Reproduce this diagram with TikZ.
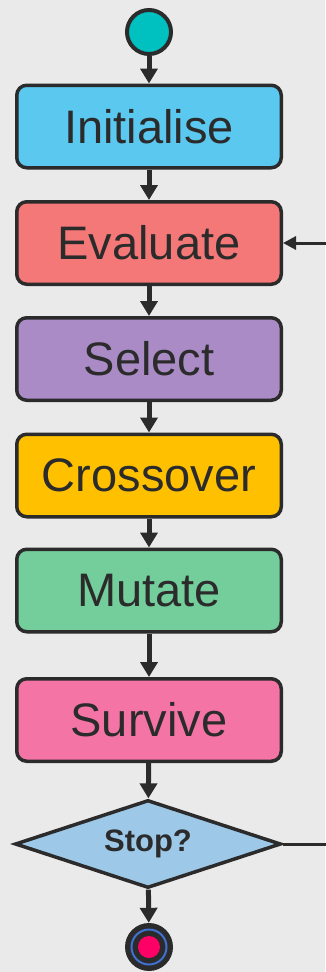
\documentclass[tikz,border=0pt]{standalone}
\usepackage{fontspec}
\setmainfont{Liberation Sans}
\usetikzlibrary{arrows.meta,shapes.geometric}

\definecolor{bgcol}{HTML}{EAEAEA}
\definecolor{inkcol}{HTML}{2B2B2B}
\definecolor{initcol}{HTML}{5BC8EF}
\definecolor{evalcol}{HTML}{F47878}
\definecolor{selcol}{HTML}{AB8BC6}
\definecolor{crosscol}{HTML}{FFC000}
\definecolor{mutcol}{HTML}{74CE9C}
\definecolor{survcol}{HTML}{F474A6}
\definecolor{stopcol}{HTML}{9DC8E8}
\definecolor{startcol}{HTML}{00C0C0}
\definecolor{ringcol}{HTML}{4070D0}
\definecolor{corecol}{HTML}{FF0066}

\tikzset{
  stepbox/.style={draw=inkcol, line width=3.5pt, rounded corners=10pt,
    minimum width=264.5pt, minimum height=82.5pt, inner sep=0pt,
    text=inkcol, font=\fontsize{47}{50}\selectfont},
  stopbox/.style={diamond, draw=inkcol, line width=3.5pt, fill=stopcol, aspect=3,
    minimum width=266pt, minimum height=88pt, inner sep=0pt,
    text=inkcol, font=\fontsize{31}{34}\selectfont\bfseries},
  startdot/.style={circle, draw=inkcol, line width=4pt, fill=startcol,
    minimum size=44pt, inner sep=0pt},
  enddot/.style={circle, fill=inkcol, minimum size=48pt, inner sep=0pt},
  flow/.style={draw=inkcol, line width=5pt, -{Triangle[length=15pt,width=17pt]}},
  back/.style={draw=inkcol, line width=3pt, -{Triangle[length=13pt,width=13pt]}}
}

\begin{document}
\begin{tikzpicture}[x=1pt,y=-1pt]
  %%%%% START %%%%%

  \fill[bgcol] (0,0) rectangle (325,972);
  \useasboundingbox (0,0) rectangle (325,972);

  \node[startdot] (start) at (149,32) {};

  \node[stepbox, fill=initcol]  (init)   at (149,126.5) {Initialise};
  \node[stepbox, fill=evalcol]  (eval)   at (149,243)   {Evaluate};
  \node[stepbox, fill=selcol]   (select) at (149,359)   {Select};
  \node[stepbox, fill=crosscol] (cross)  at (149,475.5) {Crossover};
  \node[stepbox, fill=mutcol]   (mutate) at (149,590.5) {Mutate};
  \node[stepbox, fill=survcol]  (surv)   at (149,720)   {Survive};

  \node[stopbox] (stop) at (148,844) {Stop?};

  \node[enddot] (end) at (149,947) {};
  \draw[ringcol, line width=2pt] (end.center) circle (17.5);
  \fill[corecol] (end.center) circle (11);

  \draw[flow] (start) -- (init);
  \draw[flow] (init) -- (eval);
  \draw[flow] (eval) -- (select);
  \draw[flow] (select) -- (cross);
  \draw[flow] (cross) -- (mutate);
  \draw[flow] (mutate) -- (surv);
  \draw[flow] (surv) -- (stop);
  \draw[flow] (stop) -- (end);

  % loop back, runs off the right edge
  \draw[back] (stop.east) -- ++(60,0) |- (eval.east);

  %%%%% END %%%%%
\end{tikzpicture}
\end{document}
